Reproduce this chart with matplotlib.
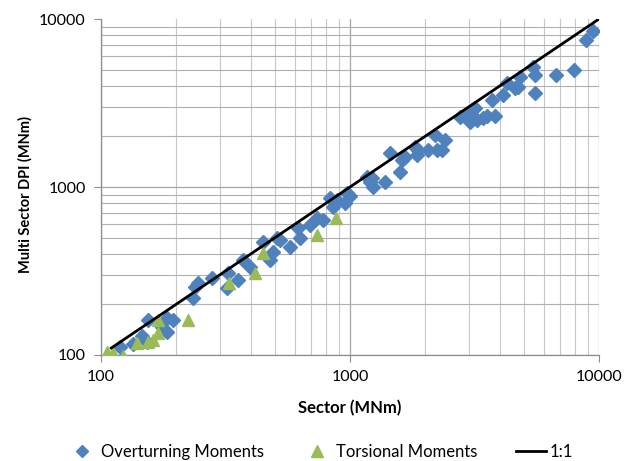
import matplotlib
matplotlib.use("Agg")
import matplotlib.pyplot as plt
from matplotlib.ticker import LogLocator, FixedLocator, NullFormatter, FixedFormatter
from matplotlib.lines import Line2D

plt.rcParams['font.family'] = ['Lato', 'DejaVu Sans']

# Overturning moments: sector value vs multi sector DPI (MNm)
over_x = [119, 134, 146, 153, 154, 176, 184, 184, 195, 234, 239, 245, 279, 324, 321,
          355, 372, 396, 447, 509, 524, 491, 477, 574, 618, 630, 690, 737, 779, 831,
          854, 973, 955, 887, 1000, 1170, 1225, 1236, 1203, 1382, 1447, 1617, 1588,
          1663, 1824, 1858, 1875, 2056, 2195, 2235, 2342, 2407, 2766, 2951, 3034,
          3090, 3177, 3034, 3236, 3420, 3548, 3820, 3715, 4118, 4271, 4600, 4817,
          4729, 5433, 5535, 5535, 6714, 7943, 8872, 9461]
over_y = [112, 116, 130, 120, 162, 147, 166, 137, 162, 218, 254, 268, 287, 308, 250,
          280, 368, 334, 471, 497, 484, 410, 368, 440, 570, 497, 594, 654, 636, 860,
          760, 921, 803, 837, 883, 1147, 1131, 1000, 1071, 1071, 1594, 1448, 1228,
          1509, 1730, 1550, 1660, 1660, 2039, 1660, 1660, 1905, 2610, 2683, 2795,
          2873, 2953, 2438, 2506, 2576, 2647, 2647, 3296, 3529, 4159, 3885, 4517,
          3936, 5180, 4642, 3626, 4642, 4971, 7499, 8483]

# Torsional moments
tors_x = [106, 112, 122, 140, 154, 162, 169, 169, 223, 327, 415, 447, 737, 879]
tors_y = [104, 103, 99, 118, 120, 123, 162, 135, 162, 268, 308, 404, 518, 654]

# 1:1 reference line
line_x = [110, 10000]
line_y = [110, 10000]

x_ticks = [100, 1000, 10000]
x_tick_labels = ["100", "1000", "10000"]
y_ticks = [100, 1000, 10000]
y_tick_labels = ["100", "1000", "10000"]

fig = plt.figure(figsize=(6.37, 4.61), dpi=100)
ax = fig.add_axes([101/637, 1-355/461, (599-101)/637, (355-19)/461])

ax.set_xscale('log')
ax.set_yscale('log')
ax.set_xlim(100, 10000)
ax.set_ylim(100, 10000)

blue = '#4f81bd'
green = '#9bbb59'

ax.plot(over_x, over_y, linestyle='none', marker='D', ms=7.3, color=blue,
        mec=blue, zorder=3, label='Overturning Moments')
ax.plot(tors_x, tors_y, linestyle='none', marker='^', ms=9, color=green,
        mec=green, zorder=4, label='Torsional Moments')
ax.plot(line_x, line_y, color='black', lw=2, zorder=5, label='1:1')

ax.xaxis.set_major_locator(FixedLocator(x_ticks))
ax.xaxis.set_major_formatter(FixedFormatter(x_tick_labels))
ax.yaxis.set_major_locator(FixedLocator(y_ticks))
ax.yaxis.set_major_formatter(FixedFormatter(y_tick_labels))
ax.xaxis.set_minor_locator(LogLocator(base=10, subs=range(2, 10)))
ax.yaxis.set_minor_locator(LogLocator(base=10, subs=range(2, 10)))
ax.xaxis.set_minor_formatter(NullFormatter())
ax.yaxis.set_minor_formatter(NullFormatter())

ax.grid(which='major', axis='both', color='#a6a6a6', lw=0.9)
ax.grid(which='minor', axis='y', color='#b0b0b0', lw=0.8)
ax.grid(which='minor', axis='x', color='#c8c8c8', lw=0.8)
ax.set_axisbelow(True)

for s in ['top', 'right']:
    ax.spines[s].set_visible(False)
for s in ['left', 'bottom']:
    ax.spines[s].set_color('#8c8c8c')
    ax.spines[s].set_linewidth(0.9)

ax.tick_params(which='major', direction='out', length=5, color='#8c8c8c',
               labelsize=11.5, pad=6, labelcolor='black')
ax.tick_params(which='minor', length=0)

ax.set_xlabel('Sector (MNm)', fontsize=12, fontweight='bold', labelpad=11)
ax.set_ylabel('Multi Sector DPI (MNm)', fontsize=10.5, fontweight='bold')
ax.yaxis.set_label_coords(-0.138, 0.479)

fig.canvas.draw()
ax.yaxis.get_major_ticks()[-1].gridline.set_visible(False)

handles = [Line2D([], [], linestyle='none', marker='D', ms=6.5, color=blue),
           Line2D([], [], linestyle='none', marker='^', ms=8.5, color=green),
           Line2D([], [], color='black', lw=2)]
fig.legend(handles, ['Overturning Moments', 'Torsional Moments', '1:1'],
           loc='center', bbox_to_anchor=(320/637, 1-452/461), ncol=3,
           frameon=False, fontsize=12, handlelength=1.8, columnspacing=2.3,
           handletextpad=0.25)

fig.savefig('out.png', dpi=100)
